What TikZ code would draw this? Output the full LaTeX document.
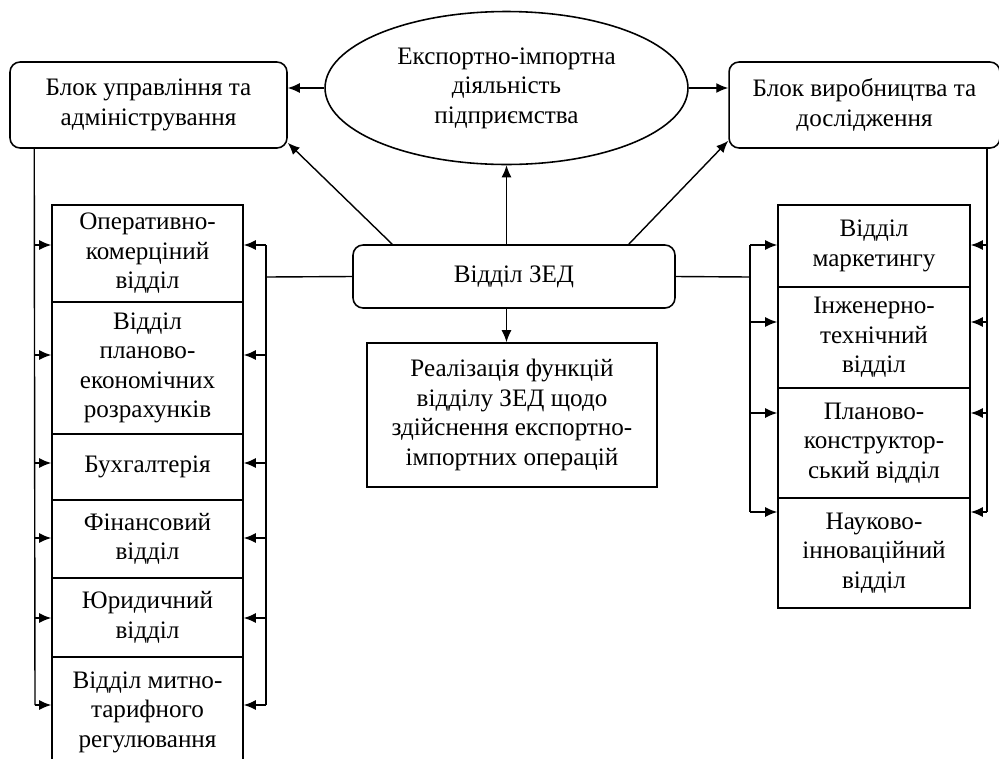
\documentclass[tikz,border=0pt]{standalone}
\usepackage{fontspec}
\setmainfont{Liberation Serif}
\usetikzlibrary{arrows.meta,shapes.geometric}

\tikzset{
  blk/.style={draw, line width=0.9pt, rounded corners=0.2cm, align=center, inner sep=0pt},
  dept/.style={draw, line width=0.9pt, align=center, inner sep=0pt},
  arr/.style={line width=0.8pt, -{Latex[length=2.4mm,width=2mm]}},
  ln/.style={line width=0.8pt}
}

\begin{document}
\begin{tikzpicture}[x=0.02cm, y=-0.02cm, every node/.style={font=\fontsize{14.3}{16.8}\selectfont}]
\useasboundingbox (0,0) rectangle (999,758);

% top row
\node[blk, minimum width=5.54cm, minimum height=1.72cm] (upr) at (148.5,105) {Блок управління та\\адміністрування};
\node[draw, ellipse, line width=0.9pt, align=center, inner sep=0pt, minimum width=7.26cm, minimum height=3.06cm] (eid) at (506.5,88) {Експортно-імпортна\\діяльність\\підприємства};
\node[blk, minimum width=5.42cm, minimum height=1.72cm] (vyr) at (864.5,105) {Блок виробництва та\\дослідження};

% centre
\node[blk, minimum width=6.44cm, minimum height=1.26cm] (zed) at (514,276.5) {Відділ ЗЕД};
\node[dept, minimum width=5.8cm, minimum height=2.88cm] (real) at (512,415) {Реалізація функцій\\відділу ЗЕД щодо\\здійснення експортно-\\імпортних операцій};

% left column
\node[dept, minimum width=3.82cm, minimum height=1.94cm] (opk) at (147.5,253.5) {Оперативно-\\комерціний\\відділ};
\node[dept, minimum width=3.82cm, minimum height=2.64cm] (plek) at (147.5,368) {Відділ\\планово-\\економічних\\розрахунків};
\node[dept, minimum width=3.82cm, minimum height=1.32cm] (buh) at (147.5,467) {Бухгалтерія};
\node[dept, minimum width=3.82cm, minimum height=1.56cm] (fin) at (147.5,539) {Фінансовий\\відділ};
\node[dept, minimum width=3.82cm, minimum height=1.58cm] (yur) at (147.5,617.5) {Юридичний\\відділ};
\node[dept, minimum width=3.82cm, minimum height=2.2cm] (mtr) at (147.5,712) {Відділ митно-\\тарифного\\регулювання};

% right column
\node[dept, minimum width=3.84cm, minimum height=1.64cm] (mark) at (874,246) {Відділ\\маркетингу};
\node[dept, minimum width=3.84cm, minimum height=2.02cm] (inzh) at (874,337.5) {Інженерно-\\технічний\\відділ};
\node[dept, minimum width=3.84cm, minimum height=2.2cm] (plk) at (874,443) {Планово-\\конструктор-\\ський відділ};
\node[dept, minimum width=3.84cm, minimum height=2.2cm] (nauk) at (874,553) {Науково-\\інноваційний\\відділ};

% links from the ellipse and the ZED department
\draw[arr] (eid.west) -- (eid.west -| upr.east);
\draw[arr] (eid.east) -- (eid.east -| vyr.west);
\draw[arr] (eid.south |- zed.north) -- (eid.south);
\draw[arr] (eid.south |- zed.south) -- (eid.south |- real.north);
\draw[arr] ([xshift=0.8cm]zed.north west) -- ([yshift=0.12cm]upr.south east);
\draw[arr] ([xshift=-0.94cm]zed.north east) -- ([yshift=0.16cm]vyr.south west);

% left buses
\draw[ln] (zed.west) -- (266,277);
\draw[ln] (266,245) -- (266,705);
\draw[ln] ([xshift=0.5cm]upr.south west) -- (35,705);
\foreach \n/\y in {opk/245,plek/355,buh/463,fin/538,yur/618,mtr/705}{
  \draw[arr] (266,\y) -- (\n.east |- 0,\y);
  \draw[arr] (35,\y) -- (\n.west |- 0,\y);
}

% right buses
\draw[ln] (zed.east) -- (750,277);
\draw[ln] (750,245) -- (750,512);
\draw[ln] (vyr.south -| 987,0) -- (987,512);
\foreach \n/\y in {mark/245,inzh/322,plk/413,nauk/512}{
  \draw[arr] (750,\y) -- (\n.west |- 0,\y);
  \draw[arr] (987,\y) -- (\n.east |- 0,\y);
}
\end{tikzpicture}
\end{document}
